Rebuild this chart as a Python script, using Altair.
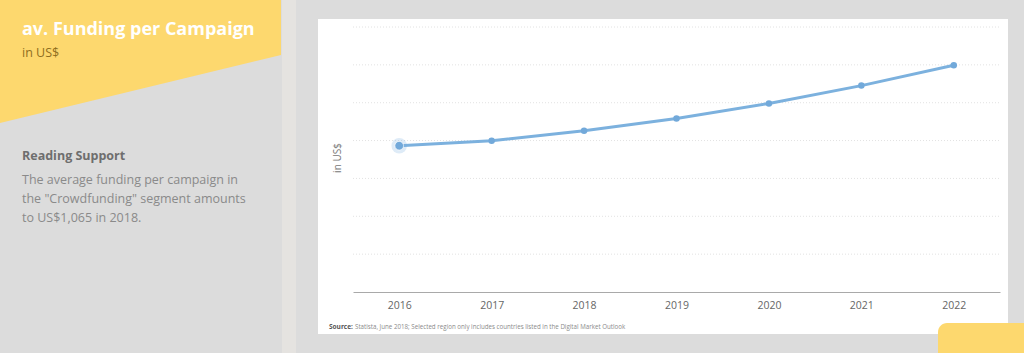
import altair as alt
import pandas as pd

# ---- data ----
years = ["2016", "2017", "2018", "2019", "2020", "2021", "2022"]
funding = [966, 999, 1065, 1146, 1245, 1363, 1497]
grid_values = [250, 500, 750, 1000, 1250, 1500, 1750]

title_text = "av. Funding per Campaign"
unit_text = "in US$"
support_title = "Reading Support"
support_lines = [
    "The average funding per campaign in",
    "the \"Crowdfunding\" segment amounts",
    "to US$1,065 in 2018.",
]
source_bold = "Source:"
source_rest = "Statista, June 2018; Selected region only includes countries listed in the Digital Market Outlook"

df = pd.DataFrame({"year": years, "value": funding})
grid_df = pd.DataFrame({"g": grid_values})

W, H = 1024, 353
FONT = "Open Sans"
LINE = "#7cb1de"
YELLOW = "#fdd86e"

xscale = alt.Scale(type="point", range=[353, 1000], padding=0.5)
yscale = alt.Scale(domain=[0, 1750], range=[292, 27], nice=False, zero=True)

one = alt.Data(values=[{"k": 1}])


def deco(mark):
    return alt.Chart(one).mark_rect(**mark)


# background shapes
yellow_poly = alt.Chart(one).mark_point(
    shape="M0,0 L281,0 L281,55 L0,123 Z", size=4, filled=True,
    fill=YELLOW, opacity=1, strokeOpacity=0,
).encode(x=alt.value(0), y=alt.value(0))

divider = deco(dict(color="#e5e3e0")).encode(
    x=alt.value(282), x2=alt.value(296), y=alt.value(0), y2=alt.value(H))

card = deco(dict(color="#ffffff")).encode(
    x=alt.value(318), x2=alt.value(1008), y=alt.value(19), y2=alt.value(334))

corner = deco(dict(color=YELLOW, cornerRadius=9)).encode(
    x=alt.value(938), x2=alt.value(1040), y=alt.value(323), y2=alt.value(365))

# gridlines
grid = alt.Chart(grid_df).mark_rule(
    color="#e2e2e2", strokeDash=[1, 2], strokeWidth=1
).encode(
    y=alt.Y("g:Q", scale=yscale, axis=None),
    x=alt.value(353), x2=alt.value(1000),
)

base = alt.Chart(df).encode(
    x=alt.X("year:O", scale=xscale, sort=years, axis=alt.Axis(
        title=None, orient="bottom", offset=-61, ticks=False, tickSize=0,
        labelPadding=8, labelFont=FONT, labelFontSize=10.5, labelColor="#666666",
        labelAngle=0, domainColor="#a9a9a9", domainWidth=1, grid=False,
        zindex=1)),
    y=alt.Y("value:Q", scale=yscale, axis=None),
)

line = base.mark_line(color=LINE, strokeWidth=3)
dots = base.mark_point(filled=True, size=42, color="#72a9da", opacity=1)
first = base.transform_filter(alt.datum.year == years[0])
halo = first.mark_point(filled=True, size=240, color=LINE, opacity=0.25)
halo_dot = first.mark_point(filled=True, size=75, color="#72a9da", opacity=1,
                            stroke="#ffffff", strokeWidth=0.8, strokeOpacity=0.8)


def txt(text, x, y, size, color, weight="normal", angle=0, align="left"):
    return alt.Chart(one).mark_text(
        text=text, font=FONT, fontSize=size, color=color, fontWeight=weight,
        align=align, baseline="alphabetic", angle=angle,
    ).encode(x=alt.value(x), y=alt.value(y))


texts = [
    txt(title_text, 22, 35, 18, "#ffffff", "bold"),
    txt(unit_text, 22, 57, 12.5, "#8f6e1e"),
    txt(support_title, 22, 160, 12.5, "#6e6e6e", "bold"),
    txt(support_lines[0], 22, 184, 12.5, "#8a8a8a"),
    txt(support_lines[1], 22, 203, 12.5, "#8a8a8a"),
    txt(support_lines[2], 22, 222, 12.5, "#8a8a8a"),
    txt(unit_text, 341, 158, 10, "#777777", angle=270, align="center"),
    txt(source_bold, 329, 329, 6.5, "#555555", "bold"),
    txt(source_rest, 355, 329, 6.2, "#8a8a8a"),
]

chart = alt.layer(
    yellow_poly, divider, card, corner, grid, line, halo, dots, halo_dot, *texts
).properties(
    width=W, height=H, padding=0, autosize=alt.AutoSizeParams(type="none"),
    background="#dcdcdc",
).configure_view(strokeWidth=0)

chart.save("out.html", embed_options={"renderer": "svg", "actions": False})
